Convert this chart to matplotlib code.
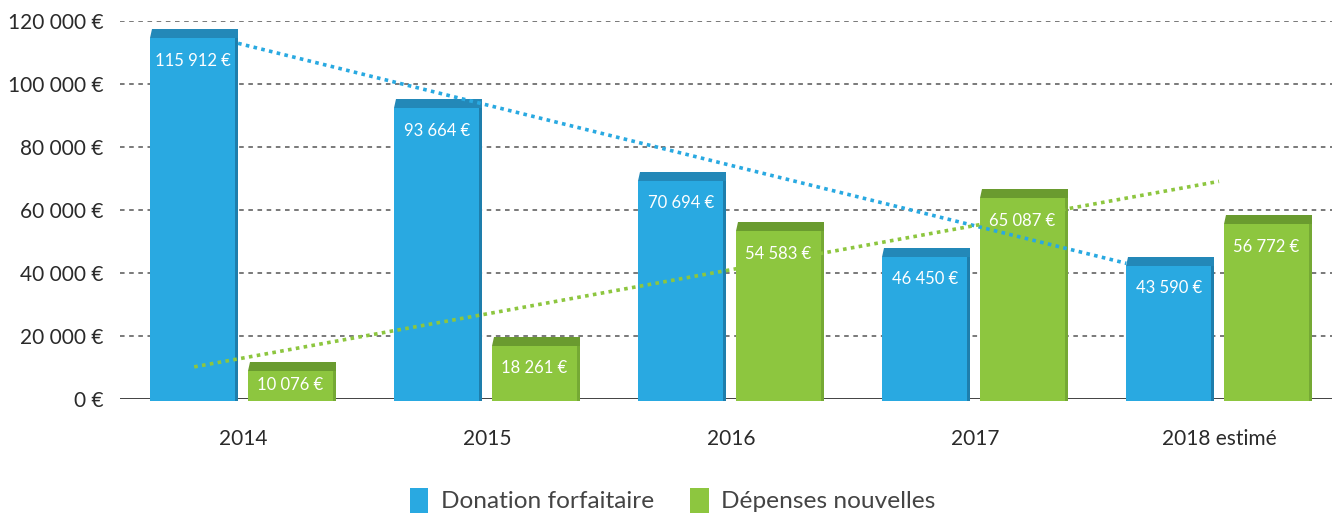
# Donation forfaitaire vs dépenses nouvelles, 2014-2018, bars with 3D cap and trend lines

import matplotlib
matplotlib.use("Agg")
import matplotlib.pyplot as plt
from matplotlib.patches import Polygon, Rectangle
import numpy as np

plt.rcParams['font.family'] = ['Lato', 'DejaVu Sans']

# data
categories = ["2014", "2015", "2016", "2017", "2018 estimé"]
donation = [115912, 93664, 70694, 46450, 43590]
depenses = [10076, 18261, 54583, 65087, 56772]
y_ticks = [0, 20000, 40000, 60000, 80000, 100000, 120000]

blue = "#29a9e1"
blue_cap = "#2388b8"
blue_side = "#1e7eac"
green = "#8dc63f"
green_cap = "#6a9b2f"
green_side = "#75a934"


def euro(v):
    return f"{v:,}".replace(",", " ") + " €"


fig = plt.figure(figsize=(13.32, 5.14), dpi=100)
ax = fig.add_axes([120 / 1332, (514 - 398.7) / 514, 1212 / 1332, 378 / 514])
ax.set_xlim(-0.504, 4.463)
ax.set_ylim(0, 120000)

# pixel -> data helpers
px_x = 1 / 244.0
px_y = 120000 / 378.0

# grid
for t in y_ticks[1:]:
    ax.axhline(t, color="#555555", lw=1.1, ls=(0, (3, 3)), zorder=1)
ax.axhline(0, color="#333333", lw=1.3, zorder=1)


def bar3d(xc, v, face, cap, side):
    w = 0.36
    x0, x1 = xc - w / 2, xc + w / 2
    ch = 9 * px_y
    sw = 3 * px_x
    bottom = -2 * px_y
    top_face = v - ch / 2
    ax.add_patch(Rectangle((x0, bottom), w - sw, top_face - bottom,
                           fc=face, ec="none", zorder=2, clip_on=False))
    ax.add_patch(Rectangle((x1 - sw, bottom), sw, top_face - bottom,
                           fc=side, ec="none", zorder=2, clip_on=False))
    ax.add_patch(Polygon([(x0, top_face), (x1, top_face), (x1, v + ch / 2),
                          (x0 + 2 * px_x, v + ch / 2)],
                         closed=True, fc=cap, ec="none", zorder=2, clip_on=False))
    # value label inside the bar
    face_mid = top_face / 2
    ly = max(v - 27 * px_y, face_mid)
    ax.text(xc - sw / 2, ly, euro(v), color="white", fontsize=12,
            ha="center", va="center", zorder=4)


x = np.arange(len(categories))
for i in range(len(categories)):
    bar3d(x[i] - 0.2, donation[i], blue, blue_cap, blue_side)
    bar3d(x[i] + 0.2, depenses[i], green, green_cap, green_side)

# linear trend lines
tx_b = np.array([-0.02, 3.62])
tx_g = np.array([-0.2, 4.0])
pb = np.polyfit(x, donation, 1)
pg = np.polyfit(x, depenses, 1)
ax.plot(tx_b, np.polyval(pb, tx_b), color=blue, lw=2.6, ls=(0, (1, 1.2)),
        zorder=3)
ax.plot(tx_g, np.polyval(pg, tx_g), color=green, lw=2.6, ls=(0, (1, 1.2)),
        zorder=3)

ax.set_yticks(y_ticks)
ax.set_yticklabels([euro(t) for t in y_ticks], fontsize=15, color="#2a2a2a")
ax.set_xticks(x)
ax.set_xticklabels(categories, fontsize=15, color="#2a2a2a")
ax.tick_params(axis="both", length=0)
ax.tick_params(axis="y", pad=12)
ax.tick_params(axis="x", pad=22)
for s in ax.spines.values():
    s.set_visible(False)

# legend
handles = [Rectangle((0, 0), 1, 1, fc=blue), Rectangle((0, 0), 1, 1, fc=green)]
fig.legend(handles, ["Donation forfaitaire", "Dépenses nouvelles"],
           loc="center", bbox_to_anchor=(0.505, 0.027), ncol=2, frameon=False,
           fontsize=17.6, handlelength=0.75, handleheight=1.2, handletextpad=0.5,
           columnspacing=1.5, labelcolor="#444444")

fig.savefig("out.png", dpi=100)
